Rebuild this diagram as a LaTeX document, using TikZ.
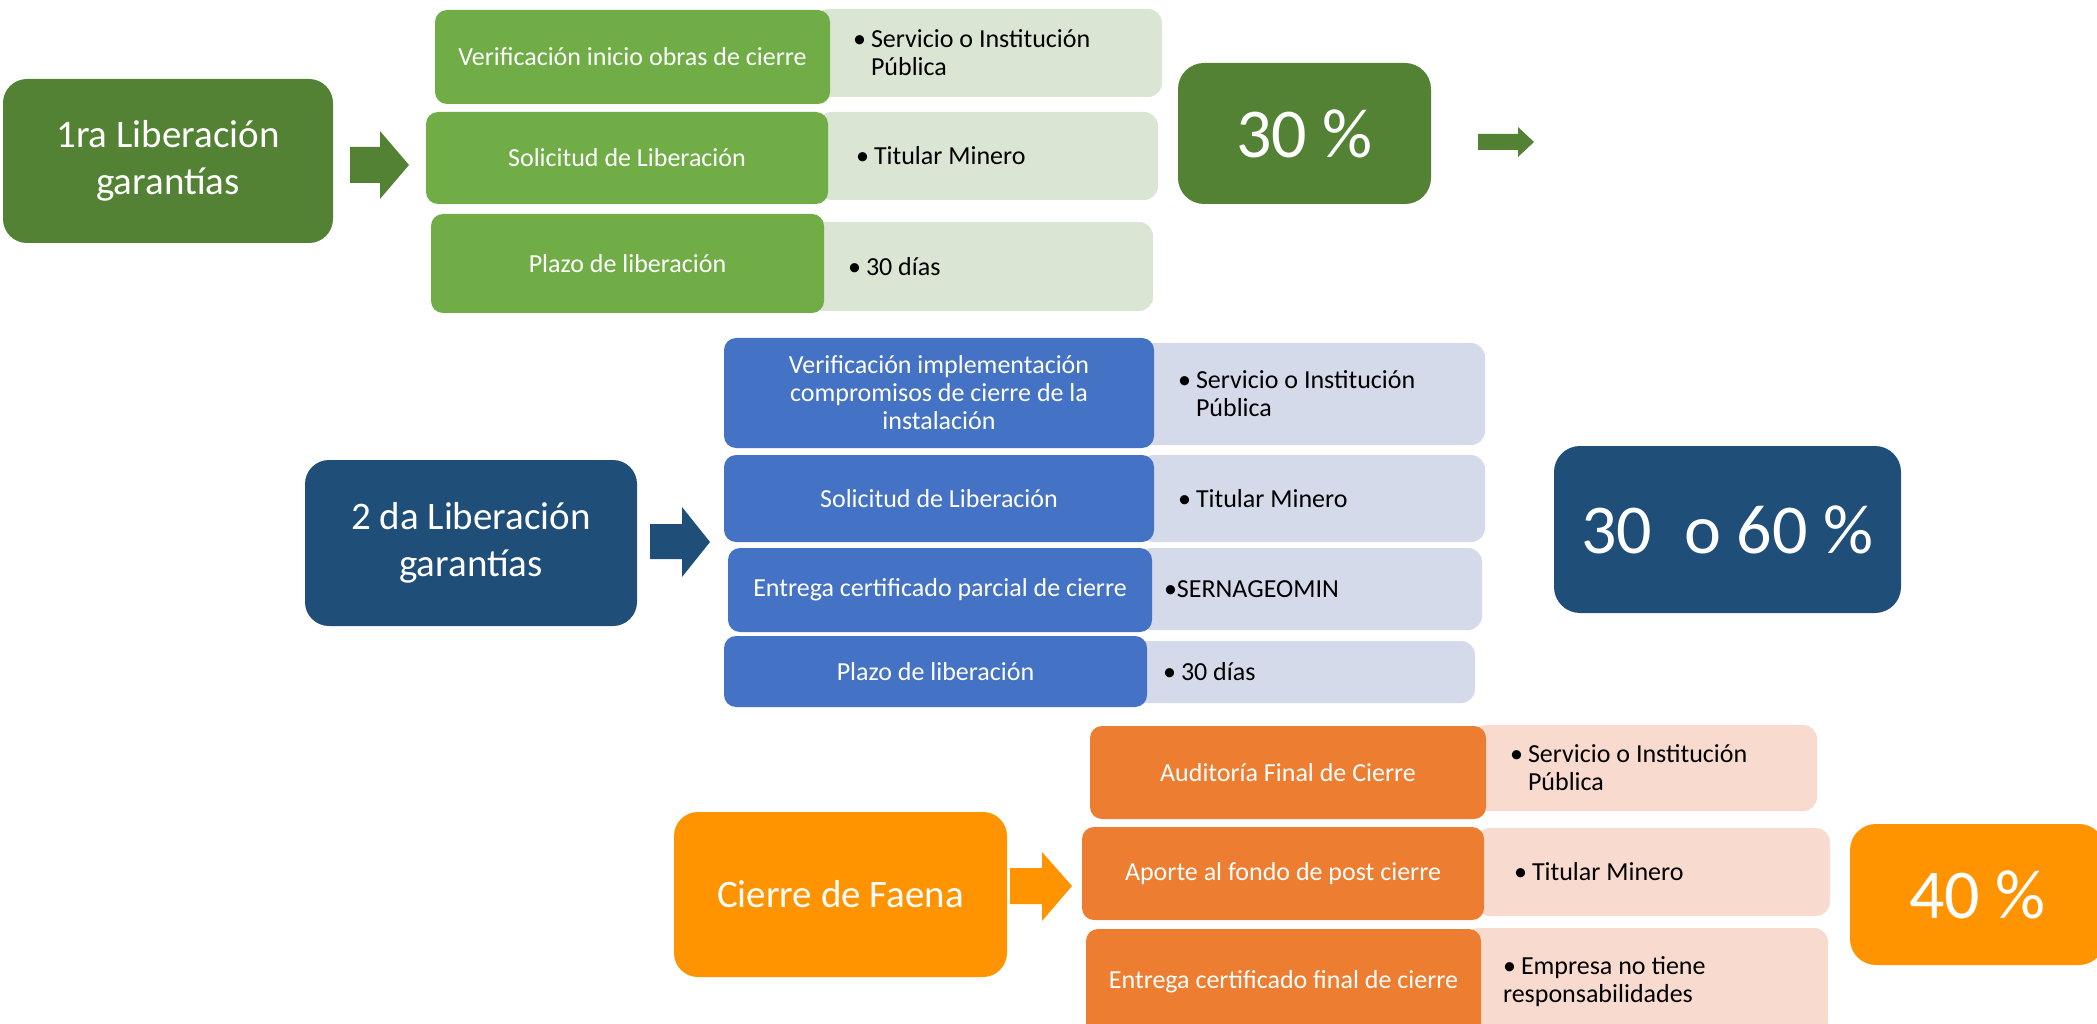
\documentclass[tikz,border=0pt]{standalone}
\usepackage{fontspec}
\setmainfont{Carlito}
\usetikzlibrary{positioning}

\definecolor{gdark}{HTML}{548235}
\definecolor{grow}{HTML}{70AD47}
\definecolor{glight}{RGB}{218,229,211}
\definecolor{bdark}{HTML}{1F4E79}
\definecolor{brow}{HTML}{4472C4}
\definecolor{blight}{RGB}{213,218,235}
\definecolor{omain}{RGB}{255,147,0}
\definecolor{orow}{HTML}{ED7D31}
\definecolor{olight}{RGB}{248,218,207}

\newcommand{\bul}{\makebox[18pt][l]{•}}

\begin{document}
\begin{tikzpicture}
[x=1pt,y=-1pt,
 main/.style={rounded corners=24pt,text=white,align=center,inner sep=0pt,
   font=\fontsize{39}{47}\selectfont},
 pct/.style={rounded corners=26pt,text=white,inner sep=0pt,
   font=\fontsize{70}{80}\selectfont},
 row/.style={rounded corners=12pt,text=white,align=center,inner sep=0pt,
   font=\fontsize{26}{28}\selectfont},
 info/.style={rounded corners=14pt,text=black,align=flush left,inner ysep=0pt,inner xsep=38pt,
   font=\fontsize{26}{28}\selectfont}]
\useasboundingbox (0,0) rectangle (2097,1024);

% 1ra liberacion
\node [main,fill=gdark,minimum width=330pt,minimum height=164pt] at (168,161) (g) {1ra Liberación\\garantías};
\fill [gdark] (350,147) -- (380,147) -- (380,131) -- (409,165) -- (380,199) -- (380,183) -- (350,183) -- cycle;

\node [info,fill=glight,minimum width=347pt,minimum height=88pt,text width=271pt] at (988.5,53) (g1i) {\bul Servicio o Institución\\\hspace*{18pt}Pública};
\node [info,fill=glight,minimum width=340pt,minimum height=88pt,text width=264pt] at (988,156) (g2i) {\bul Titular Minero};
\node [info,fill=glight,minimum width=343pt,minimum height=89pt,text width=267pt] at (981.5,266.5) (g3i) {\bul 30 días};

\node [row,fill=grow,minimum width=395pt,minimum height=94pt] at (632.5,57) (g1) {Verificación inicio obras de cierre};
\node [row,fill=grow,minimum width=402pt,minimum height=92pt] at (627,158) (g2) {Solicitud de Liberación};
\node [row,fill=grow,minimum width=393pt,minimum height=99pt] at (627.5,263.5) (g3) {Plazo de liberación};

\node [pct,fill=gdark,minimum width=253pt,minimum height=141pt] at (1304.5,133.5) (gp) {30 \%};
\fill [gdark] (1478,134) -- (1518,134) -- (1518,127) -- (1534,142) -- (1518,157) -- (1518,150) -- (1478,150) -- cycle;

% 2da liberacion
\node [main,fill=bdark,minimum width=332pt,minimum height=166pt] at (471,543) (b) {2 da Liberación\\garantías};
\fill [bdark] (650,524) -- (682,524) -- (682,507) -- (710,542) -- (682,577) -- (682,559) -- (650,559) -- cycle;

\node [info,fill=blight,minimum width=345pt,minimum height=102pt,text width=269pt] at (1312.5,394) (b1i) {\bul Servicio o Institución\\\hspace*{18pt}Pública};
\node [info,fill=blight,minimum width=345pt,minimum height=87pt,text width=269pt] at (1312.5,498.5) (b2i) {\bul Titular Minero};
\node [info,fill=blight,minimum width=344pt,minimum height=82pt,text width=268pt] at (1310,589) (b3i) {\hspace*{-12pt}•SERNAGEOMIN};
\node [info,fill=blight,minimum width=342pt,minimum height=62pt,text width=266pt] at (1304,672) (b4i) {\hspace*{-8pt}\bul 30 días};

\node [row,fill=brow,minimum width=430pt,minimum height=110pt] at (939,393) (b1) {Verificación implementación\\compromisos de cierre de la\\instalación};
\node [row,fill=brow,minimum width=430pt,minimum height=87pt] at (939,498.5) (b2) {Solicitud de Liberación};
\node [row,fill=brow,minimum width=424pt,minimum height=84pt] at (940,590) (b3) {Entrega certificado parcial de cierre};
\node [row,fill=brow,minimum width=423pt,minimum height=71pt] at (935.5,671.5) (b4) {Plazo de liberación};

\node [pct,fill=bdark,minimum width=347pt,minimum height=167pt] at (1727.5,529.5) (bp) {30\ \ o 60 \%};

% cierre de faena
\node [main,fill=omain,minimum width=333pt,minimum height=165pt] at (840.5,894.5) (o) {Cierre de Faena};
\fill [omain] (1010,868) -- (1042,868) -- (1042,852) -- (1072,886) -- (1042,921) -- (1042,904) -- (1010,904) -- cycle;

\node [info,fill=olight,minimum width=345pt,minimum height=86pt,text width=269pt] at (1644.5,768) (o1i) {\bul Servicio o Institución\\\hspace*{18pt}Pública};
\node [info,fill=olight,minimum width=354pt,minimum height=88pt,text width=278pt] at (1653,872) (o2i) {\bul Titular Minero};
\node [info,fill=olight,minimum width=363pt,minimum height=107pt,text width=287pt] at (1646.5,981.5) (o3i) {\bul Empresa no tiene\\responsabilidades};

\node [row,fill=orow,minimum width=396pt,minimum height=93pt] at (1288,772.5) (o1) {Auditoría Final de Cierre};
\node [row,fill=orow,minimum width=402pt,minimum height=93pt] at (1283,873.5) (o2) {Aporte al fondo de post cierre};
\node [row,fill=orow,minimum width=395pt,minimum height=106pt] at (1283.5,982) (o3) {Entrega certificado final de cierre};

\node [pct,fill=omain,minimum width=255pt,minimum height=141pt] at (1977.5,894.5) (op) {40 \%};
\end{tikzpicture}
\end{document}
